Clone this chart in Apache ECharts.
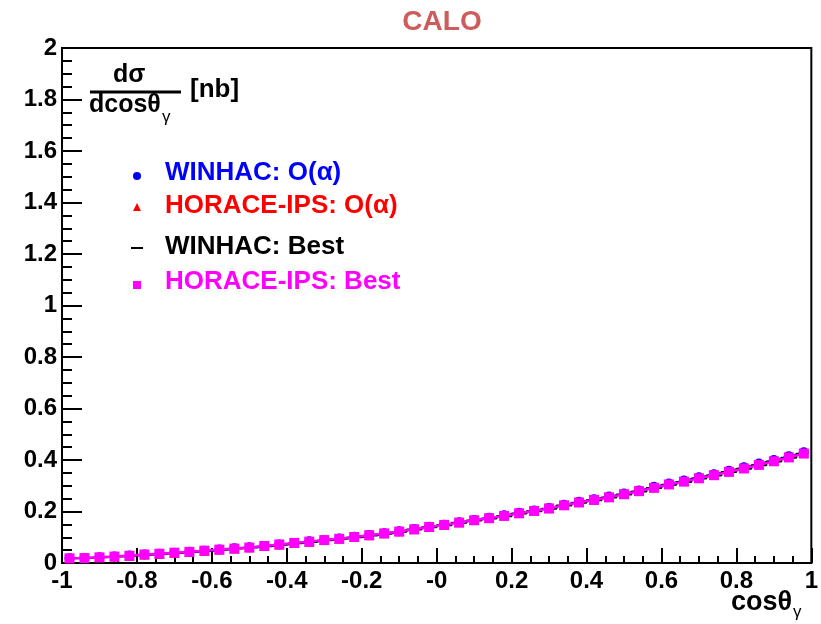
<!DOCTYPE html>
<html><head><meta charset="utf-8">
<script src="https://cdn.jsdelivr.net/npm/echarts@6/dist/echarts.min.js"></script>
<style>html,body{margin:0;padding:0;background:#fff}#c{width:821px;height:624px}</style>
</head><body><div id="c"></div>
<script>
const binCenters = [-0.98,-0.94,-0.90,-0.86,-0.82,-0.78,-0.74,-0.70,-0.66,-0.62,
 -0.58,-0.54,-0.50,-0.46,-0.42,-0.38,-0.34,-0.30,-0.26,-0.22,
 -0.18,-0.14,-0.10,-0.06,-0.02,0.02,0.06,0.10,0.14,0.18,
 0.22,0.26,0.30,0.34,0.38,0.42,0.46,0.50,0.54,0.58,
 0.62,0.66,0.70,0.74,0.78,0.82,0.86,0.90,0.94,0.98];
const winhacAlpha = [0.018,0.019,0.022,0.025,0.029,0.033,0.036,0.040,0.044,0.048,
 0.052,0.057,0.061,0.066,0.072,0.078,0.084,0.089,0.095,0.102,
 0.109,0.116,0.123,0.132,0.141,0.149,0.158,0.167,0.176,0.185,
 0.195,0.204,0.214,0.226,0.238,0.248,0.258,0.270,0.282,0.296,
 0.309,0.320,0.333,0.345,0.358,0.372,0.386,0.400,0.415,0.430];
const horaceAlpha = [0.018,0.019,0.022,0.025,0.028,0.033,0.036,0.040,0.044,0.048,
 0.052,0.056,0.061,0.066,0.072,0.078,0.083,0.089,0.095,0.102,
 0.108,0.116,0.123,0.131,0.140,0.149,0.158,0.167,0.175,0.184,
 0.194,0.203,0.213,0.225,0.237,0.247,0.257,0.269,0.281,0.294,
 0.307,0.318,0.331,0.343,0.356,0.370,0.384,0.398,0.413,0.428];
const winhacBest = [0.018,0.019,0.022,0.025,0.028,0.032,0.036,0.039,0.043,0.047,
 0.051,0.056,0.060,0.065,0.071,0.077,0.082,0.088,0.094,0.100,
 0.107,0.114,0.121,0.130,0.139,0.147,0.156,0.165,0.173,0.182,
 0.192,0.201,0.211,0.223,0.234,0.244,0.254,0.266,0.278,0.291,
 0.304,0.315,0.328,0.340,0.353,0.366,0.380,0.394,0.409,0.424];
const horaceBest = [0.018,0.019,0.022,0.025,0.028,0.033,0.036,0.040,0.043,0.048,
 0.052,0.056,0.060,0.066,0.072,0.078,0.083,0.089,0.094,0.101,
 0.108,0.115,0.122,0.131,0.140,0.148,0.157,0.166,0.174,0.183,
 0.193,0.202,0.212,0.224,0.235,0.245,0.255,0.267,0.279,0.292,
 0.305,0.316,0.329,0.341,0.354,0.367,0.381,0.395,0.410,0.425];
const seriesNames = ['WINHAC: O(\u03b1)','HORACE-IPS: O(\u03b1)','WINHAC: Best','HORACE-IPS: Best'];
const seriesColors = ['#0000ff','#ff0000','#000000','#ff00ff'];
const xTickLabels = {'-1':'-1','-0.8':'-0.8','-0.6':'-0.6','-0.4':'-0.4','-0.2':'-0.2','0':'-0','0.2':'0.2','0.4':'0.4','0.6':'0.6','0.8':'0.8','1':'1'};

const FONT = 'Liberation Sans';
const pts = arr => binCenters.map((x,i)=>[x,arr[i]]);
const chart = echarts.init(document.getElementById('c'));
const axisCommon = {
  axisLine:{show:true,onZero:false,lineStyle:{color:'#000',width:2}},
  splitLine:{show:false},
};
chart.setOption({
  animation:false,
  backgroundColor:'#fff',
  title:{text:'CALO',left:437,top:3,textAlign:'center',
    textStyle:{color:'#cd5c5c',fontFamily:FONT,fontWeight:'bold',fontSize:28}},
  grid:{left:62,right:6,top:48,bottom:61,show:true,borderColor:'#000',borderWidth:2,backgroundColor:'transparent'},
  xAxis:Object.assign({type:'value',min:-1,max:1,interval:0.2,
    axisTick:{show:true,inside:true,length:15,lineStyle:{color:'#000',width:2}},
    minorTick:{show:true,splitNumber:4,length:7,lineStyle:{color:'#000',width:2}},
    axisLabel:{color:'#000',fontFamily:FONT,fontWeight:'bold',fontSize:24,margin:6,
      formatter:v=>{const k=String(Math.round(v*10)/10);return xTickLabels[k]!==undefined?xTickLabels[k]:k;}}
  },axisCommon),
  yAxis:Object.assign({type:'value',min:0,max:2,interval:0.2,
    axisTick:{show:true,inside:true,length:20,lineStyle:{color:'#000',width:2}},
    minorTick:{show:true,splitNumber:4,length:10,lineStyle:{color:'#000',width:2}},
    axisLabel:{color:'#000',fontFamily:FONT,fontWeight:'bold',fontSize:24,margin:5,
      formatter:v=>String(Math.round(v*10)/10)}
  },axisCommon),
  series:[
    {name:seriesNames[0],type:'line',data:pts(winhacAlpha),symbol:'circle',symbolSize:10,
      lineStyle:{color:seriesColors[0],width:1.5},itemStyle:{color:seriesColors[0]},z:2},
    {name:seriesNames[1],type:'line',data:pts(horaceAlpha),symbol:'triangle',symbolSize:10,
      lineStyle:{color:seriesColors[1],width:1.5},itemStyle:{color:seriesColors[1]},z:3},
    {name:seriesNames[2],type:'line',data:pts(winhacBest),step:'middle',symbol:'none',
      lineStyle:{color:seriesColors[2],width:2},z:4},
    {name:seriesNames[3],type:'line',data:pts(horaceBest),symbol:'rect',symbolSize:10,
      lineStyle:{color:seriesColors[3],width:2.5},itemStyle:{color:seriesColors[3]},z:5}
  ],
  graphic:[
    {type:'text',left:113,top:63,style:{text:'d\u03c3',fontFamily:FONT,fontWeight:'bold',fontSize:25,fill:'#000'}},
    {type:'line',shape:{x1:90,y1:92,x2:181,y2:92},style:{stroke:'#000',lineWidth:3}},
    {type:'text',left:89,top:93,style:{text:'dcos\u03b8',fontFamily:FONT,fontWeight:'bold',fontSize:25,fill:'#000'}},
    {type:'text',left:162,top:109,style:{text:'\u03b3',fontFamily:FONT,fontWeight:'normal',fontSize:17,fill:'#000'}},
    {type:'text',left:190,top:77,style:{text:'[nb]',fontFamily:FONT,fontWeight:'bold',fontSize:26,fill:'#000'}},
    {type:'circle',shape:{cx:137,cy:176,r:4},style:{fill:seriesColors[0]}},
    {type:'polygon',shape:{points:[[137,203],[133,211],[141,211]]},style:{fill:seriesColors[1]}},
    {type:'line',shape:{x1:131,y1:248,x2:143,y2:248},style:{stroke:'#000',lineWidth:2}},
    {type:'rect',shape:{x:133,y:281,width:8,height:8},style:{fill:seriesColors[3]}},
    {type:'text',left:165,top:160,style:{text:seriesNames[0],fontFamily:FONT,fontWeight:'bold',fontSize:26,fill:seriesColors[0]}},
    {type:'text',left:165,top:193,style:{text:seriesNames[1],fontFamily:FONT,fontWeight:'bold',fontSize:26,fill:seriesColors[1]}},
    {type:'text',left:165,top:234,style:{text:seriesNames[2],fontFamily:FONT,fontWeight:'bold',fontSize:26,fill:seriesColors[2]}},
    {type:'text',left:165,top:269,style:{text:seriesNames[3],fontFamily:FONT,fontWeight:'bold',fontSize:26,fill:seriesColors[3]}},
    {type:'text',left:731,top:589,style:{text:'cos\u03b8',fontFamily:FONT,fontWeight:'bold',fontSize:27,fill:'#000'}},
    {type:'text',left:793,top:604,style:{text:'\u03b3',fontFamily:FONT,fontWeight:'normal',fontSize:17,fill:'#000'}}
  ]
});
</script></body></html>
